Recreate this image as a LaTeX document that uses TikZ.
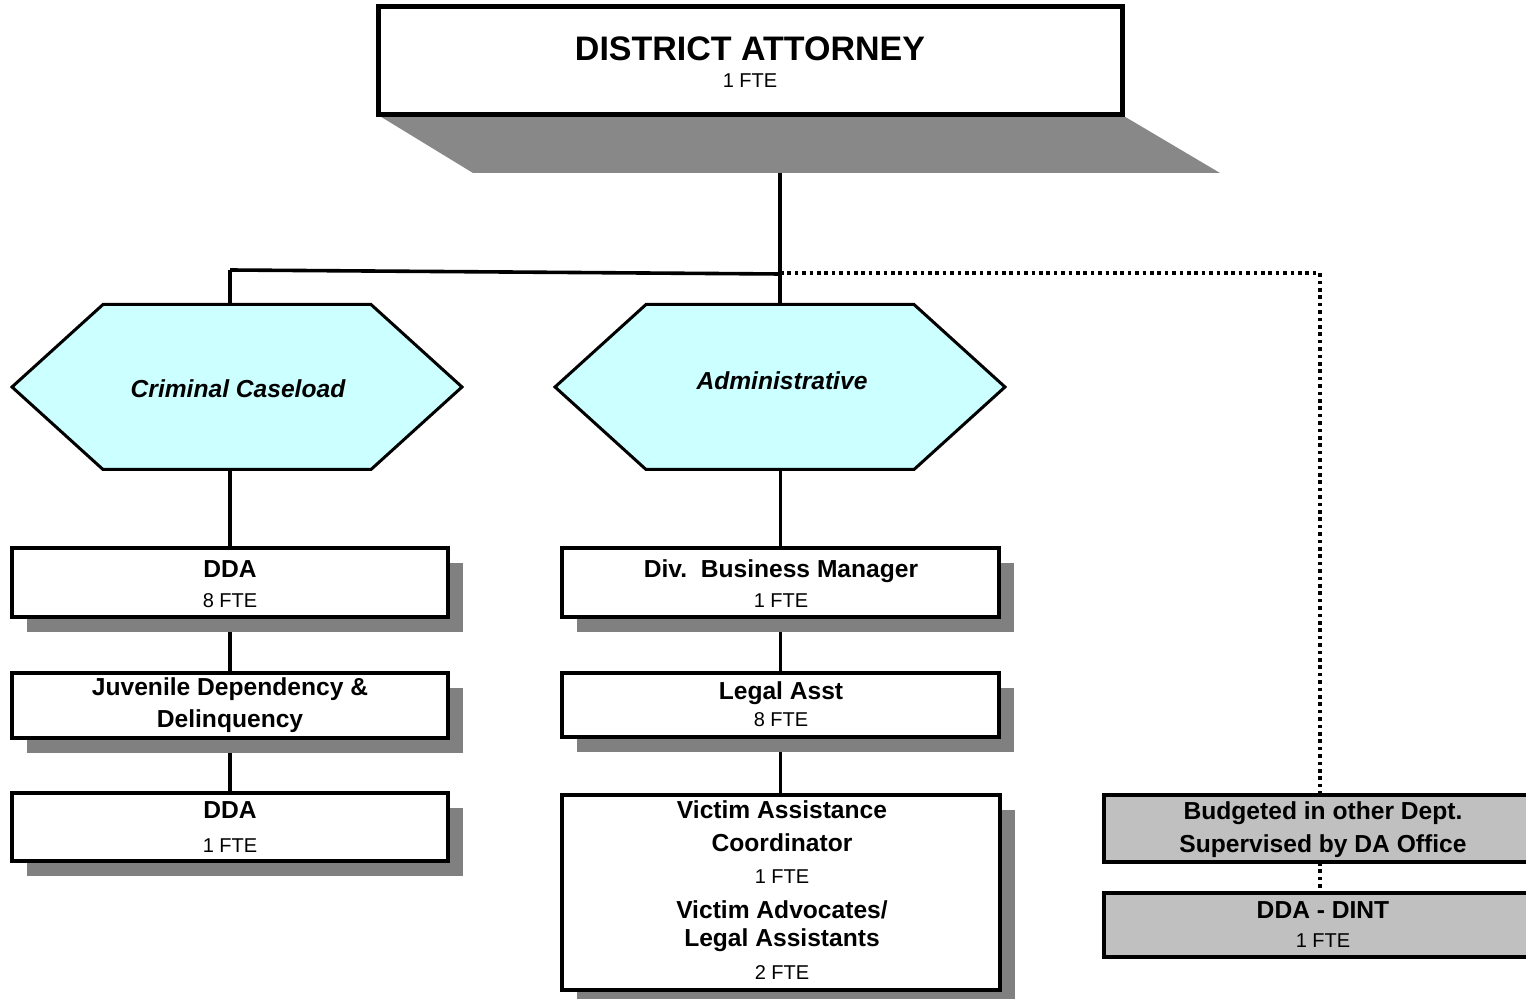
\documentclass[tikz,border=0pt]{standalone}
\usepackage{fontspec}
\setmainfont{Liberation Sans}
\usetikzlibrary{shadows,backgrounds,calc}
\definecolor{hexfill}{HTML}{CCFFFF}
\definecolor{shadegray}{HTML}{808080}
\definecolor{dashadow}{HTML}{888888}
\definecolor{boxgray}{HTML}{C0C0C0}
\begin{document}
\begin{tikzpicture}[x=0.5pt,y=-0.5pt,
  conn/.style={line width=1.8pt},
  dotline/.style={line width=1.8pt, dash pattern=on 1.8pt off 1.9pt},
  hexline/.style={line width=1.5pt, fill=hexfill},
  hexnode/.style={minimum width=225pt, minimum height=82.5pt, inner sep=0pt, outer sep=0pt},
  dabox/.style={draw, line width=2.5pt, fill=white, inner sep=0pt, outer sep=0pt},
  obox/.style={draw, line width=1.8pt, fill=white, inner sep=0pt, outer sep=0pt,
    drop shadow={shadow xshift=7.5pt, shadow yshift=-7.5pt, fill=shadegray, opacity=1}},
  gbox/.style={draw, line width=2pt, fill=boxgray, inner sep=0pt, outer sep=0pt},
  datitle/.style={font=\bfseries\fontsize{17}{20}\selectfont, inner sep=0pt, text height=12.2pt, text depth=0pt},
  tb/.style={font=\bfseries\fontsize{12.3}{14}\selectfont, inner sep=0pt, text height=8.8pt, text depth=0pt},
  tr/.style={font=\fontsize{10}{12}\selectfont, inner sep=0pt, text height=7.2pt, text depth=0pt},
  hexlbl/.style={font=\bfseries\itshape\fontsize{12.3}{14}\selectfont, inner sep=0pt, text height=8.8pt, text depth=0pt}
]
\path[use as bounding box] (0,0) rectangle (1526,999);
\clip (0,0) rectangle (1526,999);

% District Attorney
\node[dabox, minimum width=372pt, minimum height=54pt] (da) at (750,61) {};
\node[datitle] (daT) at (750,48) {DISTRICT ATTORNEY};
\node[tr] (daF) at (750,80) {1 FTE};

% hexagons
\node[hexnode] (crim) at (237,387) {};
\node[hexnode] (adm) at (780,387) {};

% left column
\node[obox, minimum width=218pt, minimum height=34.5pt] (dda1) at (230,582.5) {};
\node[tb] (dda1T) at (230,569) {DDA};
\node[tr] (dda1F) at (230,600) {8 FTE};

\node[obox, minimum width=218pt, minimum height=32.5pt] (juv) at (230,705.5) {};
\node[tb] (juvT1) at (230,687) {Juvenile Dependency \&};
\node[tb] (juvT2) at (230,719) {Delinquency};

\node[obox, minimum width=218pt, minimum height=34pt] (dda3) at (230,827) {};
\node[tb] (dda3T) at (230,810) {DDA};
\node[tr] (dda3F) at (230,845) {1 FTE};

% middle column
\node[obox, minimum width=218.5pt, minimum height=34.5pt] (dbm) at (780.5,582.5) {};
\node[tb] (dbmT) at (781,569) {Div.\ \ Business Manager};
\node[tr] (dbmF) at (781,600) {1 FTE};

\node[obox, minimum width=218.5pt, minimum height=32pt] (legal) at (780.5,705) {};
\node[tb] (legalT) at (781,691) {Legal Asst};
\node[tr] (legalF) at (781,719) {8 FTE};

\node[obox, minimum width=219pt, minimum height=97.5pt] (victim) at (781,892.5) {};
\node[tb] (vicT1) at (782,810) {Victim Assistance};
\node[tb] (vicT2) at (782,843) {Coordinator};
\node[tr] (vicF1) at (782,876) {1 FTE};
\node[tb] (vicT3) at (782,910) {Victim Advocates/};
\node[tb] (vicT4) at (782,938) {Legal Assistants};
\node[tr] (vicF2) at (782,972) {2 FTE};

% right column
\node[gbox, minimum width=219pt, minimum height=33.5pt] (bud) at (1323,828.5) {};
\node[tb] (budT1) at (1323,811) {Budgeted in other Dept.};
\node[tb] (budT2) at (1323,844) {Supervised by DA Office};

\node[gbox, minimum width=219pt, minimum height=32pt] (dint) at (1323,925) {};
\node[tb] (dintT) at (1323,910) {DDA - DINT};
\node[tr] (dintF) at (1323,940) {1 FTE};

% hexagon labels
\node[hexlbl] (crimT) at (238,389) {Criminal Caseload};
\node[hexlbl] (admT) at (782,381) {Administrative};

\begin{scope}[on background layer]
  \fill[white] (0,0) rectangle (1526,999);
  \fill[dashadow] (da.south west) -- (da.south east) -- ($(da.south east)+(98,58)$) -- ($(da.south west)+(95,58)$) -- cycle;
  \foreach \h in {crim,adm}
    \draw[hexline] (\h.west) -- ([xshift=45.5pt]\h.north west) -- ([xshift=-45.5pt]\h.north east)
      -- (\h.east) -- ([xshift=-45.5pt]\h.south east) -- ([xshift=45.5pt]\h.south west) -- cycle;
  \coordinate (dabot) at (780,173);
  \coordinate (jl) at (230,270);
  \coordinate (jm) at (780,274);
  \coordinate (jr) at (1320,273);
  \draw[conn] (dabot) -- (dabot |- adm.north);
  \draw[conn] (jl) -- (jm);
  \draw[conn] (jl) -- (jl |- crim.north);
  \draw[dotline] (jm |- jr) -- (jr) -- (jr |- bud.north);
  \draw[dotline] (jr |- bud.south) -- (jr |- dint.north);
  \draw[conn] (dda1.north |- crim.south) -- (dda1.north);
  \draw[conn] (dda1.south) -- (juv.north);
  \draw[conn] (juv.south) -- (dda3.north);
  \draw[conn] (dbm.north |- adm.south) -- (dbm.north);
  \draw[conn] (dbm.south) -- (legal.north);
  \draw[conn] (legal.south) -- (legal.south |- victim.north);
\end{scope}
\end{tikzpicture}
\end{document}
